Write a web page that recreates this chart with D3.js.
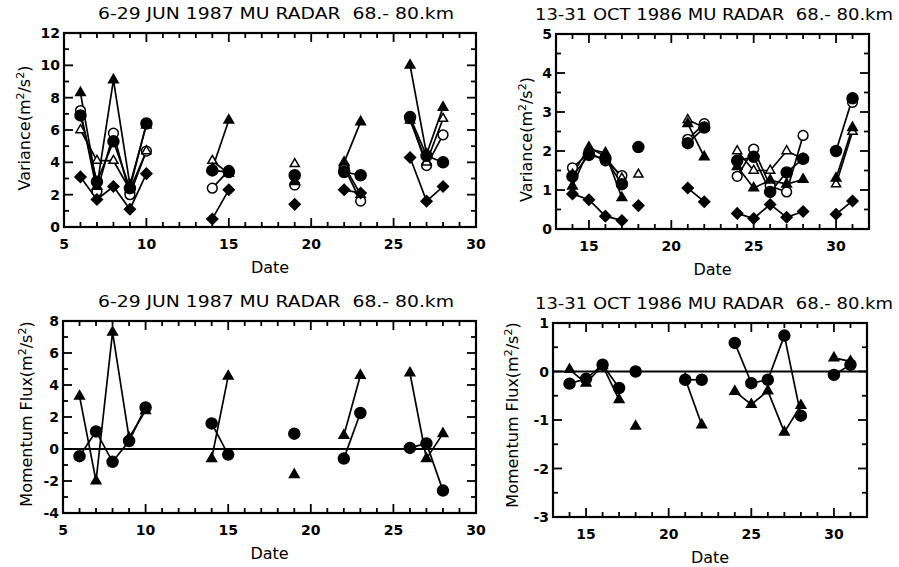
<!DOCTYPE html>
<html>
<head>
<meta charset="utf-8">
<script src="https://cdn.jsdelivr.net/npm/d3@7"></script>
<style>
  body { margin: 0; background: #fff; }
  svg { font-family: "DejaVu Sans", sans-serif; }
  text { white-space: pre; }
</style>
</head>
<body>
<svg id="chart" width="899" height="567"></svg>
<script>
// ---- data ----
let junDays = [6, 7, 8, 9, 10, 14, 15, 19, 22, 23, 26, 27, 28];
let junSeg  = [0, 0, 0, 0, 0, 1, 1, 2, 3, 3, 4, 4, 4];
let octDays = [14, 15, 16, 17, 18, 21, 22, 24, 25, 26, 27, 28, 30, 31];
let octSeg  = [0, 0, 0, 0, 1, 2, 2, 3, 3, 3, 3, 3, 4, 4];

// variance, June
let junVarTriF  = [8.3, 2.5, 9.1, 2.6, 6.3, 3.6, 6.6, 2.8, 4.0, 6.5, 10.0, 4.5, 7.4];
let junVarCircF = [6.9, 2.8, 5.3, 2.4, 6.4, 3.5, 3.4, 3.2, 3.4, 3.2, 6.8, 4.4, 4.0];
let junVarCircO = [7.2, 2.2, 5.8, 2.0, 4.7, 2.4, 3.5, 2.6, 3.7, 1.6, 6.7, 3.8, 5.7];
let junVarTriO  = [6.0, 4.1, 4.1, 2.3, 4.7, 4.1, 3.3, 3.9, 3.8, 2.0, 6.6, 4.0, 6.7];
let junVarDiam  = [3.1, 1.7, 2.5, 1.1, 3.3, 0.5, 2.3, 1.4, 2.3, 2.1, 4.3, 1.6, 2.5];

// variance, October
let octVarTriF  = [1.1, 2.05, 1.95, 0.8, null, 2.7, 1.85, 1.6, 1.05, 1.25, 1.15, 1.27, 1.3, 2.6];
let octVarCircF = [1.35, 1.9, 1.8, 1.15, 2.1, 2.2, 2.6, 1.75, 1.85, 0.95, 1.45, 1.8, 2.0, 3.35];
let octVarCircO = [1.57, 1.95, 1.75, 1.37, null, 2.3, 2.7, 1.35, 2.05, 1.1, 0.95, 2.4, null, 3.25];
let octVarTriO  = [1.4, 2.1, 1.85, 1.3, 1.4, 2.8, 2.6, 2.0, 1.5, 1.5, 2.0, 1.8, 1.15, 2.5];
let octVarDiam  = [0.9, 0.75, 0.33, 0.22, 0.6, 1.05, 0.7, 0.4, 0.27, 0.63, 0.3, 0.45, 0.38, 0.72];

// momentum flux
let junFluxTri  = [3.3, -2.0, 7.3, 0.7, 2.4, -0.6, 4.55, -1.6, 0.85, 4.6, 4.75, -0.6, 0.96];
let junFluxCirc = [-0.45, 1.1, -0.8, 0.5, 2.6, 1.6, -0.35, 0.96, -0.6, 2.25, 0.07, 0.35, -2.6];
let octFluxTri  = [0.04, -0.24, 0.12, -0.58, -1.13, -0.15, -1.1, -0.41, -0.68, -0.4, -1.25, -0.7, 0.28, 0.21];
let octFluxCirc = [-0.25, -0.15, 0.14, -0.34, 0.0, -0.17, -0.17, 0.59, -0.24, -0.17, 0.74, -0.91, -0.07, 0.14];

let junTitle = "6-29 JUN 1987 MU RADAR  68.- 80.km";
let octTitle = "13-31 OCT 1986 MU RADAR  68.- 80.km";

let svg = d3.select("#chart");

function drawPanel(p){
    let x = d3.scaleLinear().domain(p.xdom).range([p.left, p.right]);
    let y = d3.scaleLinear().domain(p.ydom).range([p.bottom, p.top]);
    let g = svg.append("g");

    // ticks on all four sides, pointing inward
    let xMinor = d3.range(Math.ceil(p.xdom[0]), p.xdom[1] + 0.001, 1);
    let yMinor = d3.range(p.ydom[0], p.ydom[1] + 0.001, p.yminor);
    xMinor.forEach(v=>{
        let len = (v % 5 == 0) ? 9 : 5;
        g.append("line").attr("x1", x(v)).attr("x2", x(v)).attr("y1", p.bottom).attr("y2", p.bottom - len)
         .attr("stroke", "black").attr("stroke-width", 1.8);
        g.append("line").attr("x1", x(v)).attr("x2", x(v)).attr("y1", p.top).attr("y2", p.top + len)
         .attr("stroke", "black").attr("stroke-width", 1.8);
    });
    yMinor.forEach(v=>{
        let major = Math.abs(v / p.ymajor - Math.round(v / p.ymajor)) < 1e-6;
        let len = major ? 9 : 5;
        g.append("line").attr("x1", p.left).attr("x2", p.left + len).attr("y1", y(v)).attr("y2", y(v))
         .attr("stroke", "black").attr("stroke-width", 1.8);
        g.append("line").attr("x1", p.right).attr("x2", p.right - len).attr("y1", y(v)).attr("y2", y(v))
         .attr("stroke", "black").attr("stroke-width", 1.8);
    });
    g.append("rect").attr("x", p.left).attr("y", p.top)
     .attr("width", p.right - p.left).attr("height", p.bottom - p.top)
     .attr("fill", "none").attr("stroke", "black").attr("stroke-width", 2.2);

    // tick labels
    p.xlabels.forEach(v=>{
        g.append("text").attr("x", x(v)).attr("y", p.bottom + 22)
         .attr("text-anchor", "middle").attr("font-size", 14).attr("font-weight", "bold").text(v);
    });
    d3.range(p.ydom[0], p.ydom[1] + 0.001, p.ymajor).forEach(v=>{
        g.append("text").attr("x", p.left - 4).attr("y", y(v) + 5)
         .attr("text-anchor", "end").attr("font-size", 14).attr("font-weight", "bold").text(v);
    });

    // titles
    g.append("text").attr("x", p.titleX).attr("y", p.top - 14)
     .attr("text-anchor", "middle").attr("font-size", 16)
     .attr("textLength", p.titleW).attr("lengthAdjust", "spacingAndGlyphs").text(p.title);
    g.append("text").attr("x", (p.left + p.right) / 2).attr("y", p.bottom + 46)
     .attr("text-anchor", "middle").attr("font-size", 16).text("Date");
    let yl = g.append("text")
     .attr("transform", "translate(" + p.ylabX + "," + ((p.top + p.bottom) / 2 + p.ylabDy) + ") rotate(-90)")
     .attr("text-anchor", "middle").attr("font-size", 16);
    yl.append("tspan").text(p.ylab + "(m");
    yl.append("tspan").attr("font-size", 11).attr("baseline-shift", "super").text("2");
    yl.append("tspan").text("/s");
    yl.append("tspan").attr("font-size", 11).attr("baseline-shift", "super").text("2");
    yl.append("tspan").text(")");

    if (p.zero){
        g.append("line").attr("x1", p.left).attr("x2", p.right).attr("y1", y(0)).attr("y2", y(0))
         .attr("stroke", "black").attr("stroke-width", 2);
    }

    // series
    p.series.forEach(s=>{
        let pts = p.days.map((d, i)=>({day: d, v: s.values[i], seg: p.seg[i]}))
                        .filter(d=>d.v !== null);
        let groups = d3.group(pts, d=>d.seg);
        let dline = d3.line().x(d=>x(d.day)).y(d=>y(d.v));
        groups.forEach(arr=>{
            if (arr.length > 1){
                g.append("path").datum(arr).attr("fill", "none").attr("stroke", "black")
                 .attr("stroke-width", 1.7).attr("d", dline);
            }
        });
    });
    p.series.forEach(s=>{
        let pts = p.days.map((d, i)=>({day: d, v: s.values[i]})).filter(d=>d.v !== null);
        let sym = d3.symbol().type(s.type).size(s.size);
        g.selectAll(null).data(pts).enter().append("path")
         .attr("d", sym)
         .attr("transform", d=>"translate(" + x(d.day) + "," + y(d.v) + ")" + (s.rot ? " rotate(45)" : ""))
         .attr("fill", s.open ? "white" : "black")
         .attr("stroke", "black").attr("stroke-width", 1.5);
    });
}

let varSeries = (tf, cf, co, to, dm)=>[
    {values: co, type: d3.symbolCircle, size: 75, open: true},
    {values: to, type: d3.symbolTriangle, size: 36, open: true},
    {values: tf, type: d3.symbolTriangle, size: 40, open: false},
    {values: cf, type: d3.symbolCircle, size: 95, open: false},
    {values: dm, type: d3.symbolSquare, size: 60, open: false, rot: true}
];

drawPanel({left: 64, right: 476, top: 33, bottom: 227, xdom: [5, 30], ydom: [0, 12], ymajor: 2, yminor: 1,
    xlabels: [5, 10, 15, 20, 25, 30], title: junTitle, titleX: 276, titleW: 356,
    ylab: "Variance", ylabX: 30, ylabDy: -2, days: junDays, seg: junSeg,
    series: varSeries(junVarTriF, junVarCircF, junVarCircO, junVarTriO, junVarDiam)});

drawPanel({left: 556, right: 869, top: 34, bottom: 229, xdom: [13, 32], ydom: [0, 5], ymajor: 1, yminor: 0.5,
    xlabels: [15, 20, 25, 30], title: octTitle, titleX: 714, titleW: 358,
    ylab: "Variance", ylabX: 532, ylabDy: 8, days: octDays, seg: octSeg,
    series: varSeries(octVarTriF, octVarCircF, octVarCircO, octVarTriO, octVarDiam)});

let fluxSeries = (tri, circ)=>[
    {values: tri, type: d3.symbolTriangle, size: 40, open: false},
    {values: circ, type: d3.symbolCircle, size: 95, open: false}
];

drawPanel({left: 63, right: 476, top: 321, bottom: 513, xdom: [5, 30], ydom: [-4, 8], ymajor: 2, yminor: 1,
    xlabels: [5, 10, 15, 20, 25, 30], title: junTitle, titleX: 276, titleW: 356,
    ylab: "Momentum Flux", ylabX: 32, ylabDy: -3, days: junDays, seg: junSeg, zero: true,
    series: fluxSeries(junFluxTri, junFluxCirc)});

drawPanel({left: 553, right: 867, top: 323, bottom: 517, xdom: [13, 32], ydom: [-3, 1], ymajor: 1, yminor: 0.5,
    xlabels: [15, 20, 25, 30], title: octTitle, titleX: 714, titleW: 358,
    ylab: "Momentum Flux", ylabX: 518, ylabDy: -5, days: octDays, seg: octSeg, zero: true,
    series: fluxSeries(octFluxTri, octFluxCirc)});
</script>
</body>
</html>
